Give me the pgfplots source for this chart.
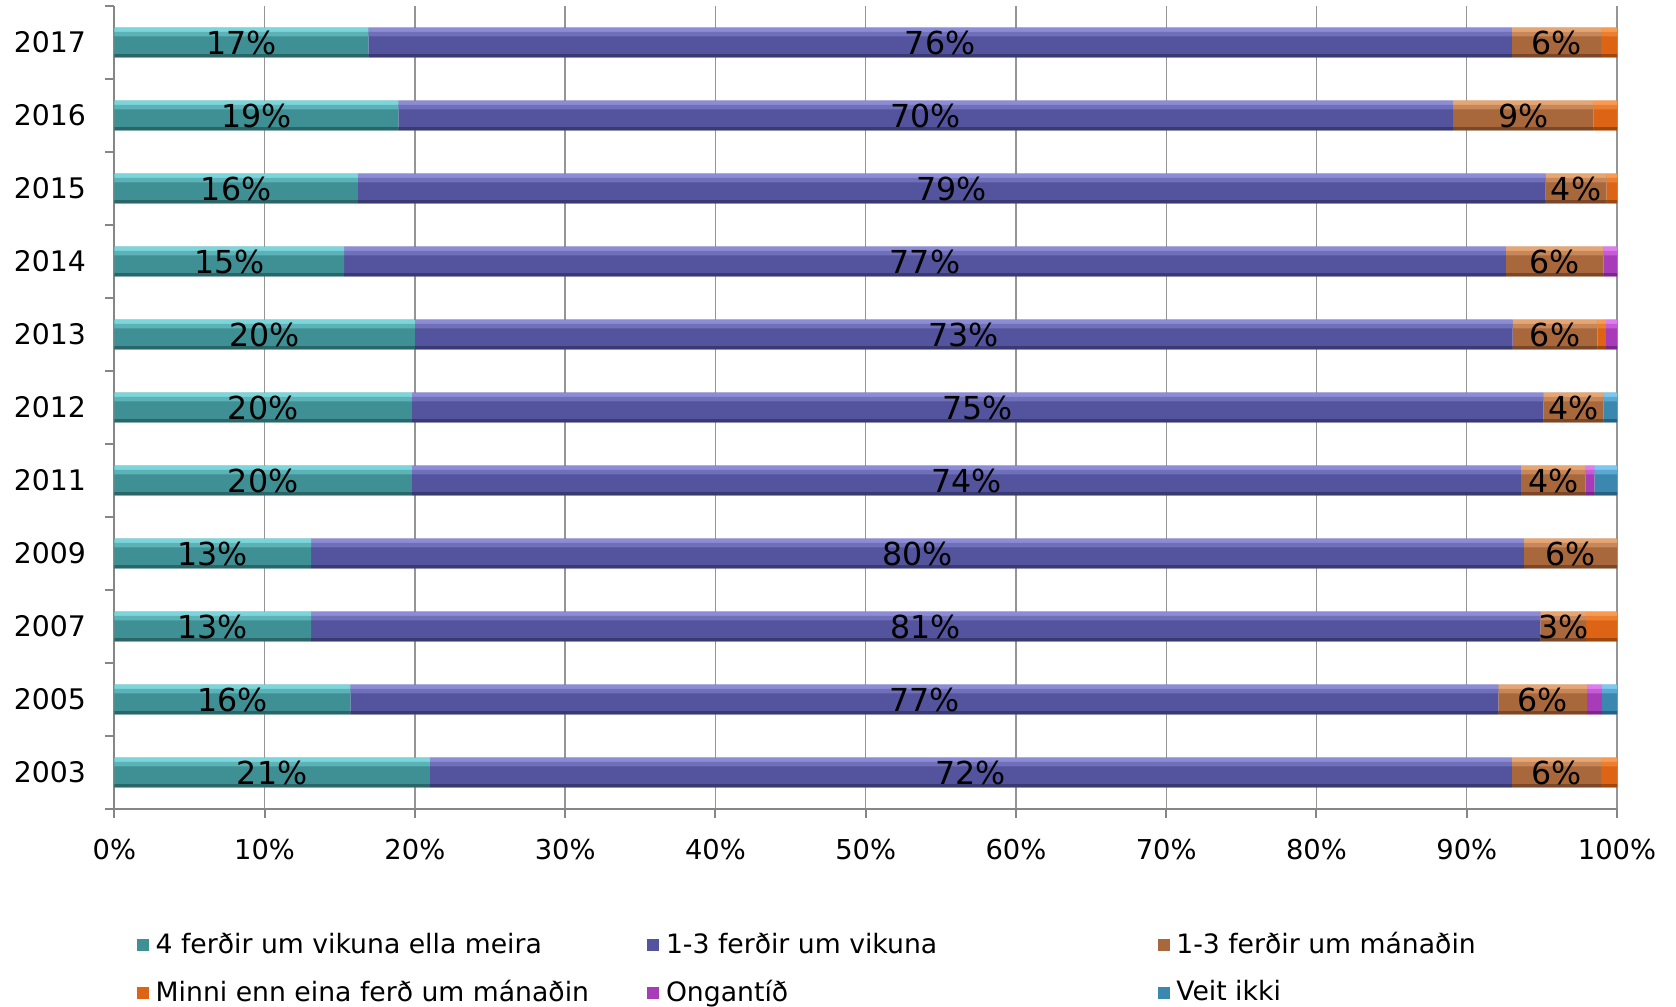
\documentclass[border=0pt]{standalone}
\usepackage{pgfplots}
\pgfplotsset{compat=1.18}
\usepackage{pgfplotstable}
\usepackage{fontspec}
\setmainfont{DejaVu Sans}

\definecolor{cA}{HTML}{3E9094}\definecolor{cAl}{HTML}{7AD6DA}\definecolor{cAd}{HTML}{2A6668}
\definecolor{cB}{HTML}{54549E}\definecolor{cBl}{HTML}{8C8CD6}\definecolor{cBd}{HTML}{3A3A72}
\definecolor{cC}{HTML}{A9683C}\definecolor{cCl}{HTML}{E6A674}\definecolor{cCd}{HTML}{7A4828}
\definecolor{cD}{HTML}{DD6414}\definecolor{cDl}{HTML}{F89A50}\definecolor{cDd}{HTML}{A0460C}
\definecolor{cE}{HTML}{A83CB8}\definecolor{cEl}{HTML}{E07CF0}\definecolor{cEd}{HTML}{782888}
\definecolor{cF}{HTML}{3A88B0}\definecolor{cFl}{HTML}{7CC8F0}\definecolor{cFd}{HTML}{286080}
\definecolor{axgray}{HTML}{868686}
\definecolor{gridgray}{HTML}{959595}

\pgfplotstableread{
y  a     b      c     d     e     f    la lb lc
0  21.0  72.0   5.95  1.05  0     0    21 72 6
1  15.7  76.4   5.9   0     1.0   1.0  16 77 6
2  13.1  81.8   3.05  2.05  0     0    13 81 3
3  13.1  80.7   6.2   0     0     0    13 80 6
4  19.8  73.8   4.3   0     0.6   1.5  20 74 4
5  19.8  75.3   4.0   0     0     0.9  20 75 4
6  20.0  73.05  5.65  0.55  0.75  0    20 73 6
7  15.3  77.3   6.5   0     0.9   0    15 77 6
8  16.2  79.05  4.05  0.7   0     0    16 79 4
9  18.9  70.2   9.35  1.55  0     0    19 70 9
10 16.9  76.1   5.95  1.05  0     0    17 76 6
}\data

\newcommand{\lbl}[1]{\makebox[145.5pt][l]{#1}}

\pgfplotsset{
  geom/.style={
    at={(34.3pt,59.4pt)}, anchor=south west,
    scale only axis, width=450.8pt, height=240.9pt,
    xbar stacked, bar width=0.41,
    xmin=0, xmax=100, ymin=-0.5, ymax=10.5,
  },
  lab/.style={forget plot, draw=none, fill=none, point meta=explicit symbolic,
    nodes near coords={\pgfplotspointmeta\%},
    every node near coord/.style={anchor=center, inner sep=0pt,
      font=\fontsize{9.5}{11}\selectfont}},
  hi/.style={draw=none, fill=#1, bar width=0.06, bar shift=0.175},
  mi/.style={draw=none, fill=#1, bar width=0.06, bar shift=0.115},
  sh/.style={draw=none, fill=#1, bar width=0.045, bar shift=-0.1825},
}

\begin{document}
\begin{tikzpicture}
\useasboundingbox (0,0) rectangle (502.8pt,302.1pt);
\begin{axis}[
  geom,
  axis x line*=bottom, axis y line*=left,
  axis line style={axgray, line width=0.6pt},
  xtick={0,10,...,100},
  xticklabel={\pgfmathprintnumber{\tick}\%},
  /pgf/number format/assume math mode=true,
  xmajorgrids, grid style={gridgray, line width=0.4pt},
  tick align=outside, major tick length=2.7pt,
  tick style={axgray, line width=0.6pt},
  ytick={-0.5,0.5,...,10.5}, yticklabels={},
  extra y ticks={0,1,...,10},
  extra y tick labels={2003,2005,2007,2009,2011,2012,2013,2014,2015,2016,2017},
  extra y tick style={major tick length=0pt, y tick label style={xshift=-5.0pt}},
  x tick label style={font=\fontsize{8.2}{10}\selectfont, yshift=-2.9pt},
  y tick label style={font=\fontsize{8.5}{10}\selectfont},
  legend columns=3,
  legend style={at={(axis description cs:0,0)}, anchor=north west, xshift=6.6pt, yshift=-34.8pt,
     draw=none, fill=none, inner sep=0pt, row sep=2.4pt,
     font=\fontsize{8}{9.5}\selectfont},
  legend cell align=left,
  legend image code/.code={\fill[#1] (0pt,-1.8pt) rectangle (3.6pt,1.8pt);},
]
\addplot[draw=none, fill=cA] table[x=a,y=y]{\data};
\addplot[draw=none, fill=cB] table[x=b,y=y]{\data};
\addplot[draw=none, fill=cC] table[x=c,y=y]{\data};
\addplot[draw=none, fill=cD] table[x=d,y=y]{\data};
\addplot[draw=none, fill=cE] table[x=e,y=y]{\data};
\addplot[draw=none, fill=cF] table[x=f,y=y]{\data};
\legend{\lbl{4 ferðir um vikuna ella meira},\lbl{1-3 ferðir um vikuna},\lbl{1-3 ferðir um mánaðin},\lbl{Minni enn eina ferð um mánaðin},\lbl{Ongantíð},\lbl{Veit ikki}}
\end{axis}
\begin{axis}[geom, hide axis]
\addplot[hi=cAl] table[x=a,y=y]{\data};
\addplot[hi=cBl] table[x=b,y=y]{\data};
\addplot[hi=cCl] table[x=c,y=y]{\data};
\addplot[hi=cDl] table[x=d,y=y]{\data};
\addplot[hi=cEl] table[x=e,y=y]{\data};
\addplot[hi=cFl] table[x=f,y=y]{\data};
\end{axis}
\begin{axis}[geom, hide axis]
\addplot[mi=cA!50!cAl] table[x=a,y=y]{\data};
\addplot[mi=cB!50!cBl] table[x=b,y=y]{\data};
\addplot[mi=cC!50!cCl] table[x=c,y=y]{\data};
\addplot[mi=cD!50!cDl] table[x=d,y=y]{\data};
\addplot[mi=cE!50!cEl] table[x=e,y=y]{\data};
\addplot[mi=cF!50!cFl] table[x=f,y=y]{\data};
\end{axis}
\begin{axis}[geom, hide axis]
\addplot[sh=cAd] table[x=a,y=y]{\data};
\addplot[sh=cBd] table[x=b,y=y]{\data};
\addplot[sh=cCd] table[x=c,y=y]{\data};
\addplot[sh=cDd] table[x=d,y=y]{\data};
\addplot[sh=cEd] table[x=e,y=y]{\data};
\addplot[sh=cFd] table[x=f,y=y]{\data};
\end{axis}
\begin{axis}[geom, hide axis]
\addplot[lab=a] table[x=a,y=y,meta=la]{\data};
\addplot[lab=b] table[x=b,y=y,meta=lb]{\data};
\addplot[lab=c] table[x=c,y=y,meta=lc]{\data};
\end{axis}
\end{tikzpicture}
\end{document}
